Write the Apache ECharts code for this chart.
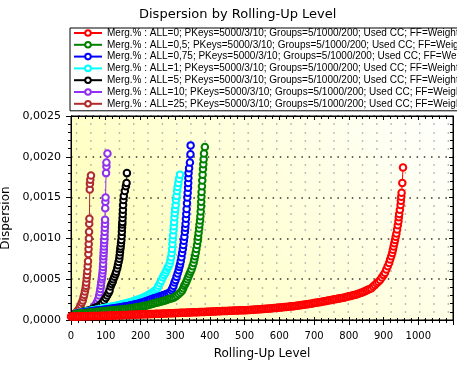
<!DOCTYPE html>
<html><head><meta charset="utf-8">
<script src="https://cdn.jsdelivr.net/npm/echarts@6/dist/echarts.min.js"></script>
<style>html,body{margin:0;padding:0;background:#fff}#c{width:457px;height:368px}</style>
</head><body><div id="c"></div>
<script>
// ---------- DATA ----------
const seriesNames = [
  "Merg.% : ALL=0; PKeys=5000/3/10; Groups=5/1000/200; Used CC; FF=Weighted",
  "Merg.% : ALL=0,5; PKeys=5000/3/10; Groups=5/1000/200; Used CC; FF=Weighted",
  "Merg.% : ALL=0,75; PKeys=5000/3/10; Groups=5/1000/200; Used CC; FF=Weighted",
  "Merg.% : ALL=1; PKeys=5000/3/10; Groups=5/1000/200; Used CC; FF=Weighted",
  "Merg.% : ALL=5; PKeys=5000/3/10; Groups=5/1000/200; Used CC; FF=Weighted",
  "Merg.% : ALL=10; PKeys=5000/3/10; Groups=5/1000/200; Used CC; FF=Weighted",
  "Merg.% : ALL=25; PKeys=5000/3/10; Groups=5/1000/200; Used CC; FF=Weighted"
];
const seriesColors = ["#ff0000","#008000","#0000ff","#00ffff","#000000","#9030f0","#b02c2c"];

// ALL=0 : levels 0..795 every 5 levels, then tail points
const redLowStart = 0, redLowStep = 5;
const redLow = [
0.000042,0.000042,0.000043,0.000043,0.000044,0.000044,0.000045,0.000045,0.000046,0.000046,0.000047,0.000047,0.000048,0.000048,0.000049,0.000049,0.000050,0.000050,0.000051,0.000051,
0.000052,0.000053,0.000054,0.000054,0.000055,0.000056,0.000057,0.000058,0.000058,0.000059,0.000060,0.000061,0.000062,0.000062,0.000063,0.000064,0.000065,0.000066,0.000066,0.000067,
0.000068,0.000069,0.000070,0.000071,0.000071,0.000072,0.000073,0.000074,0.000075,0.000076,0.000076,0.000077,0.000078,0.000079,0.000080,0.000081,0.000082,0.000083,0.000084,0.000084,
0.000085,0.000086,0.000087,0.000088,0.000089,0.000089,0.000090,0.000091,0.000092,0.000093,0.000094,0.000094,0.000095,0.000096,0.000097,0.000098,0.000098,0.000099,0.000100,0.000101,
0.000102,0.000103,0.000104,0.000105,0.000106,0.000107,0.000108,0.000109,0.000110,0.000110,0.000111,0.000112,0.000113,0.000114,0.000115,0.000116,0.000117,0.000118,0.000119,0.000119,
0.000120,0.000121,0.000122,0.000123,0.000125,0.000126,0.000128,0.000129,0.000131,0.000132,0.000134,0.000135,0.000137,0.000138,0.000140,0.000142,0.000144,0.000146,0.000148,0.000150,
0.000152,0.000154,0.000156,0.000158,0.000160,0.000163,0.000165,0.000167,0.000170,0.000172,0.000175,0.000177,0.000180,0.000183,0.000186,0.000189,0.000192,0.000195,0.000198,0.000202,
0.000207,0.000210,0.000214,0.000218,0.000222,0.000226,0.000230,0.000234,0.000238,0.000242,0.000246,0.000250,0.000254,0.000258,0.000262,0.000266,0.000270,0.000274,0.000279,0.000284
];
const redTail = [
[800,0.00029],[805,0.000295],[810,0.0003],[815,0.000305],[820,0.00031],[825,0.000318],[830,0.000325],[835,0.000333],[840,0.00034],[845,0.00035],
[850,0.00036],[855,0.00037],[860,0.00038],[865,0.00039],[870,0.00041],[875,0.00043],[880,0.00045],[885,0.00047],[890,0.00049],[895,0.00052],
[900,0.00055],[904,0.00058],[908,0.00062],[912,0.00066],[916,0.0007],[919,0.00074],[922,0.00078],[925,0.00082],[927,0.00086],[929,0.0009],
[931,0.00094],[933,0.00098],[935,0.00102],[937,0.00106],[939,0.00111],[941,0.00116],[943,0.00121],[944,0.00126],[945,0.0013],[947,0.00135],
[949,0.00141],[950,0.00146],[951,0.00151],[952,0.00156],[954,0.00168],[956,0.00187]
];

// ALL=0,5
const greenLowStart = 15, greenLowStep = 5;
const greenLow = [
0.000075,0.000078,0.00008,0.000082,0.000084,0.000086,0.000088,0.00009,0.000092,0.000094,0.000096,0.000098,0.0001,0.000102,0.000104,0.000106,0.000108,0.00011,0.000112,0.000114,
0.000116,0.000118,0.00012,0.000122,0.000124,0.000126,0.000128,0.000131,0.000133,0.000136,0.000139,0.000142,0.000145,0.000148,0.000152,0.000155,0.000159,0.000163,0.000167,0.000171,
0.000176,0.000181,0.000186,0.000192,0.000198,0.000204,0.00021,0.000216,0.000222,0.000228,0.000234,0.00024,0.000246,0.000253,0.00026,0.000267,0.000274,0.000285,0.0003,0.000318,0.000336
];
const greenUp = [
[320,0.00036],[323,0.00039],[326,0.00042],[329,0.00044],[332,0.00047],[335,0.0005],[338,0.00053],[341,0.00056],[344,0.00059],[347,0.00062],
[350,0.00066],[353,0.0007],[355,0.00074],[357,0.00078],[359,0.00082],[361,0.00087],[363,0.00092],[365,0.00097],[366,0.00102],[367.5,0.00107],
[369,0.00112],[370,0.00117],[371.5,0.00122],[372.5,0.00127],[373.5,0.00133],[374.5,0.00139],[375,0.00145],[375.5,0.00151],[376,0.00157],[377,0.00164],
[378,0.00171],[379,0.00178],[380,0.00185],[381,0.00191],[382,0.00197],[383,0.00204],[385.5,0.00212]
];

// ALL=0,75
const blueLowStart = 15, blueLowStep = 5;
const blueLow = [
0.000078,0.000082,0.000085,0.000088,0.000091,0.000094,0.000097,0.0001,0.000103,0.000106,0.000109,0.000112,0.000115,0.000118,0.000121,0.000124,0.000127,0.00013,0.000133,0.000136,
0.000139,0.000142,0.000145,0.000148,0.000151,0.000154,0.000157,0.000161,0.000165,0.000169,0.000173,0.000177,0.000182,0.000187,0.000192,0.000197,0.000203,0.000209,0.000215,0.000222,
0.000229,0.000236,0.000244,0.000252,0.00026,0.000267,0.000274,0.00028,0.000287,0.000294,0.000302,0.00031,0.000319,0.000328,0.000338
];
const blueUp = [
[289,0.000365],[292,0.00039],[295,0.00042],[298,0.00046],[301,0.00049],[304,0.00053],[307,0.00057],[310,0.00061],[312,0.00065],[314,0.00068],
[316,0.00072],[318,0.00077],[320,0.00082],[322,0.00087],[323.5,0.00092],[325,0.00097],[326.5,0.00102],[328,0.00108],[329,0.00113],[330,0.00118],
[331,0.00124],[332,0.0013],[333,0.00136],[334,0.00143],[335,0.0015],[336,0.00156],[337,0.00162],[337.5,0.00168],[338,0.00174],[338.5,0.0018],
[340,0.00186],[342.5,0.00193],[344,0.00203],[344.5,0.00214]
];

// ALL=1
const cyanLowStart = 15, cyanLowStep = 5;
const cyanLow = [
0.00008,0.000084,0.000088,0.000092,0.000096,0.0001,0.000104,0.000108,0.000112,0.000116,0.00012,0.000124,0.000128,0.000132,0.000136,0.00014,0.000145,0.00015,0.000154,0.000158,
0.000162,0.000166,0.00017,0.000175,0.00018,0.000185,0.00019,0.000195,0.0002,0.000206,0.000212,0.000218,0.000224,0.000231,0.000238,0.000245,0.000253,0.000261,0.00027,0.000279,
0.000289,0.0003,0.000312,0.000325,0.000339,0.000354,0.00037
];
const cyanUp = [
[249,0.00039],[252,0.00042],[256,0.00045],[260,0.00048],[264,0.00052],[268,0.00055],[272,0.00058],[275,0.00061],[278,0.00064],[281,0.00066],
[284,0.00069],[286,0.00073],[288,0.00077],[290,0.00082],[291,0.00087],[292,0.00093],[293,0.00099],[294,0.00104],[295,0.0011],[296,0.00115],
[297,0.0012],[298,0.00126],[299,0.00131],[300,0.00136],[301.5,0.00141],[302.5,0.00147],[304,0.00152],[305.5,0.00158],[307,0.00163],[309,0.00168],
[311,0.00173],[314,0.00178]
];

// ALL=5
const blackPts = [
[10,0.00007],[15,0.000075],[20,0.00008],[25,0.000085],[30,0.00009],[35,0.0001],[40,0.000105],[45,0.00011],[50,0.000115],[55,0.00012],
[60,0.00013],[65,0.00014],[70,0.00015],[75,0.00016],[80,0.00017],[85,0.00019],[90,0.00021],[95,0.00024],[100,0.00027],[104,0.0003],
[108,0.00033],[111,0.00036],[114,0.00041],[117,0.00044],[120,0.00047],[122,0.0005],[125,0.00053],[128,0.00056],[130,0.00059],[133,0.00063],
[135,0.00067],[137,0.00071],[139,0.00075],[140,0.00079],[141,0.00083],[142,0.00087],[143,0.0009],[144,0.00094],[145,0.00098],[146,0.00103],
[146.5,0.00108],[147,0.00113],[147.5,0.00117],[148,0.0012],[148.5,0.00125],[149,0.0013],[149.5,0.00135],[150,0.00141],[151,0.00147],[152,0.00152],
[155,0.00158],[158,0.00164],[160,0.00168],[161,0.0018]
];

// ALL=10
const purplePts = [
[20,0.00007],[28,0.000075],[36,0.00008],[43,0.00009],[50,0.0001],[57,0.00012],[62,0.00014],[67,0.00017],[72,0.0002],[76,0.00023],
[79,0.00026],[81,0.0003],[83,0.00034],[84.5,0.00038],[86,0.00042],[87,0.00046],[88.5,0.0005],[89.5,0.00053],[90.5,0.00057],[91.5,0.00061],
[92,0.00065],[92.5,0.00069],[93,0.00074],[93.5,0.00078],[94,0.00082],[94.5,0.00086],[95,0.0009],[95.5,0.00094],[96,0.00098],[96.5,0.00103],
[97,0.00108],[97.5,0.00113],[98,0.00118],[98,0.00123],[98.5,0.00137],[99,0.00145],[99.5,0.0015],[101,0.0018],[102,0.00188],[102,0.00193],
[105,0.00204]
];

// ALL=25
const brownPts = [
[10,0.00007],[14,0.00009],[18,0.00011],[22,0.00013],[25,0.00015],[28,0.00018],[31,0.00021],[34,0.00024],[36,0.00028],[38,0.00031],
[40,0.00035],[42,0.00039],[43,0.00042],[44,0.00046],[45,0.00051],[46,0.00055],[47,0.0006],[48,0.00066],[49,0.00072],[50,0.00081],
[50.5,0.00087],[51,0.00093],[51.5,0.001],[52,0.00108],[52.5,0.00118],[53,0.00124],[54,0.0016],[54.5,0.00167],[55.5,0.00172],[57.5,0.00177]
];

const xTicks = {min:0, max:1100, interval:100};
const yTicks = {min:0, max:0.0025, interval:0.0005};

// ---------- BUILD ----------
function lowToPairs(start, step, arr){ return arr.map((v,i)=>[start+step*i, v]); }
const dataSets = [
  lowToPairs(redLowStart, redLowStep, redLow).concat(redTail),
  lowToPairs(greenLowStart, greenLowStep, greenLow).concat(greenUp),
  lowToPairs(blueLowStart, blueLowStep, blueLow).concat(blueUp),
  lowToPairs(cyanLowStart, cyanLowStep, cyanLow).concat(cyanUp),
  blackPts, purplePts, brownPts
];

const FONT = "DejaVu Sans";
const series = [];
for (let i = dataSets.length - 1; i >= 0; i--) {
  series.push({
    name: seriesNames[i], type: 'line', data: dataSets[i],
    xAxisIndex: 0, yAxisIndex: 0,
    symbol: 'emptyCircle', symbolSize: 6.5, showAllSymbol: true,
    color: seriesColors[i],
    itemStyle: {color: seriesColors[i], borderColor: seriesColors[i], borderWidth: 1.35},
    lineStyle: {color: seriesColors[i], width: 1},
    animation: false, clip: true
  });
}

function xAx(extra){ return Object.assign({type:'value', min:xTicks.min, max:xTicks.max, interval:xTicks.interval,
  splitLine:{show:false}, axisLine:{show:true, onZero:false, lineStyle:{color:'#000', width:1}}}, extra); }
function yAx(extra){ return Object.assign({type:'value', min:yTicks.min, max:yTicks.max, interval:yTicks.interval,
  axisLine:{show:true, onZero:false, lineStyle:{color:'#000', width:1}}}, extra); }

const option = {
  backgroundColor: '#fff',
  animation: false,
  title: {text: 'Dispersion by Rolling-Up Level', left: 134, top: 3,
    textStyle: {fontFamily: FONT, fontSize: 13, fontWeight: 'normal', color: '#000'}},
  legend: {
    orient: 'vertical', left: 70, top: 28,
    data: seriesNames,
    backgroundColor: '#fff', borderColor: '#000', borderWidth: 1,
    padding: [0, 3, 2, 3],
    itemWidth: 28, itemHeight: 7, itemGap: 1.8,
    itemStyle: {borderWidth: 1.2},
    textStyle: {fontFamily: 'Liberation Sans', fontSize: 10, color: '#000', lineHeight: 10},
    selectedMode: false
  },
  grid: {left: 71, right: 4, top: 116, bottom: 48, show: true, containLabel: false, outerBoundsMode: 'none',
    backgroundColor: {type:'linear', x:1, y:0, x2:0.3, y2:1, colorStops:[{offset:0,color:'#ffffff'},{offset:1,color:'#ffffc2'}]},
    borderColor: '#000', borderWidth: 1},
  xAxis: [
    xAx({position:'bottom', name:'Rolling-Up Level', nameLocation:'middle', nameGap:28,
      nameTextStyle:{fontFamily:FONT, fontSize:12, color:'#000'},
      axisTick:{show:true, inside:false, length:5, lineStyle:{color:'#000'}},
      minorTick:{show:true, splitNumber:5, length:3, lineStyle:{color:'#000'}},
      axisLabel:{show:true, margin:11, fontFamily:FONT, fontSize:10, color:'#000', showMaxLabel:false,
        formatter: v => String(v)}}),
    xAx({position:'bottom', axisTick:{show:true, inside:true, length:3, lineStyle:{color:'#000'}},
      minorTick:{show:true, splitNumber:5, length:2, lineStyle:{color:'#000'}}, axisLabel:{show:false}}),
    xAx({position:'top', axisTick:{show:true, inside:true, length:4, lineStyle:{color:'#000'}},
      minorTick:{show:true, splitNumber:5, length:3, lineStyle:{color:'#000'}}, axisLabel:{show:false}})
  ],
  yAxis: [
    yAx({position:'left', name:'Dispersion', nameLocation:'middle', nameGap:55,
      nameTextStyle:{fontFamily:FONT, fontSize:12, color:'#000'},
      axisTick:{show:true, inside:false, length:5, lineStyle:{color:'#000'}},
      minorTick:{show:true, splitNumber:5, length:3, lineStyle:{color:'#000'}},
      axisLabel:{show:true, margin:10, fontFamily:FONT, fontSize:11, color:'#000',
        formatter: v => v.toFixed(4).replace('.', ',')},
      splitLine:{show:true, lineStyle:{color:'#333', width:1.5, type:[1.5,5.7]}},
      minorSplitLine:{show:true, lineStyle:{color:'#a8a8a8', width:1.5, type:[1.5,12.8], dashOffset:9.5}}}),
    yAx({position:'right', splitLine:{show:false}, axisTick:{show:true, inside:true, length:4, lineStyle:{color:'#000'}},
      minorTick:{show:true, splitNumber:5, length:3, lineStyle:{color:'#000'}}, axisLabel:{show:false}})
  ],
  series: series
};
const chart = echarts.init(document.getElementById('c'), null, {renderer:'canvas'});
chart.setOption(option);
</script></body></html>
